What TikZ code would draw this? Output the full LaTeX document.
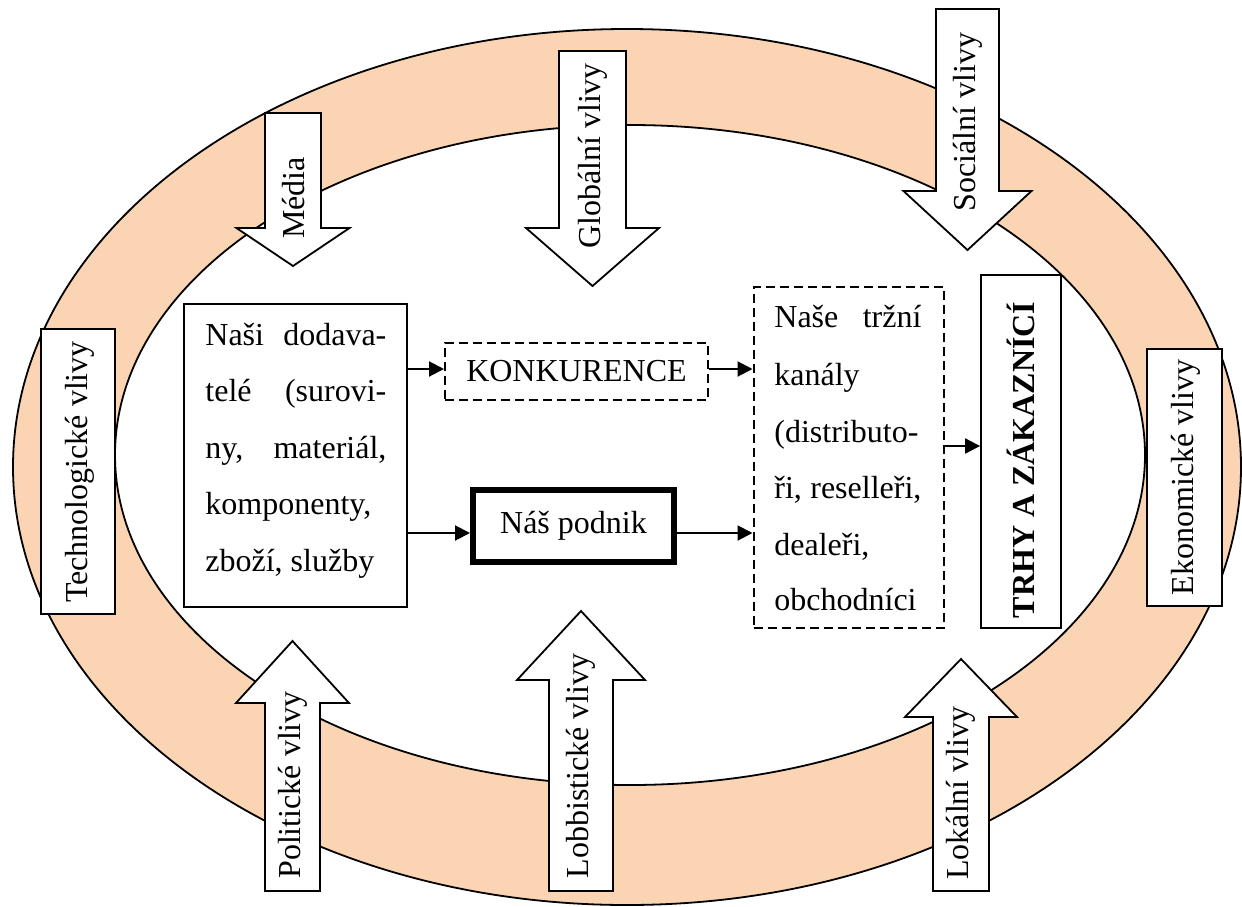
\documentclass[tikz,border=0pt]{standalone}
\usepackage{fontspec}
\setmainfont{Liberation Serif}
\usetikzlibrary{arrows.meta}
\definecolor{ringpeach}{HTML}{FBD4B4}
\begin{document}
\begin{tikzpicture}[x=0.5pt,y=-0.5pt,
  every node/.style={font=\fontsize{16}{19}\selectfont},
  outline/.style={line width=0.9pt},
  blockarrow/.style={outline, draw=black, fill=white, line join=miter},
  labeltext/.style={rotate=90, inner sep=0pt},
  plainbox/.style={outline, draw=black, fill=white, inner sep=0pt},
  dashbox/.style={line width=1pt, draw=black, dash pattern=on 4.5pt off 2.5pt, inner sep=0pt},
  thickbox/.style={draw=black, line width=3pt, inner sep=0pt},
  flow/.style={line width=1pt, -{Triangle[length=7.5pt,width=7.5pt]}},
  textline/.style={anchor=base west, inner sep=0pt},
]
\useasboundingbox (0,0) rectangle (1242,906);

% the ring of outside influences
\fill[ringpeach, even odd rule]
  (627,467) ellipse [x radius=307pt, y radius=219pt]
  (630,455) ellipse [x radius=257.5pt, y radius=165pt];
\draw[outline] (627,467) ellipse [x radius=307pt, y radius=219pt];
\draw[outline] (630,455) ellipse [x radius=257.5pt, y radius=165pt];

% downward block arrows
\draw[blockarrow] (265,113) -- (321,113) -- (321,228) -- (349.5,228) -- (293,266) -- (236.5,228) -- (265,228) -- cycle;
\node[labeltext] (media) at (294,198) {Média};
\draw[blockarrow] (559,51) -- (626,51) -- (626,228) -- (659,228) -- (592.5,286) -- (526,228) -- (559,228) -- cycle;
\node[labeltext] (global) at (593,156) {Globální vlivy};
\draw[blockarrow] (936,9) -- (999,9) -- (999,191) -- (1031.5,191) -- (967.5,250) -- (903.5,191) -- (936,191) -- cycle;
\node[labeltext] (social) at (968,122) {Sociální vlivy};

% upward block arrows
\draw[blockarrow] (265,891) -- (320,891) -- (320,703) -- (349,703) -- (292.5,641) -- (236,703) -- (265,703) -- cycle;
\node[labeltext] (polit) at (293,785) {Politické vlivy};
\draw[blockarrow] (549,891) -- (613,891) -- (613,680) -- (645,680) -- (581,611) -- (517,680) -- (549,680) -- cycle;
\node[labeltext] (lobby) at (581,766) {Lobbistické vlivy};
\draw[blockarrow] (933,891) -- (989,891) -- (989,717) -- (1017,717) -- (961,659) -- (905,717) -- (933,717) -- cycle;
\node[labeltext] (local) at (961,793) {Lokální vlivy};

% side boxes on the ring
\node[plainbox, minimum width=37pt, minimum height=142.5pt] (tech) at (78,471.5) {};
\node[labeltext] (techlabel) at (80,472) {Technologické vlivy};
\node[plainbox, minimum width=37.5pt, minimum height=128.5pt] (eko) at (1184.5,477.5) {};
\node[labeltext] (ekolabel) at (1186,477.5) {Ekonomické vlivy};

% suppliers
\node[plainbox, minimum width=111.5pt, minimum height=151.5pt] (sup) at (295.5,455.5) {};
\node[textline] (sup1) at (205,345) {\hbox to 90.5pt{Naši\hfill dodava-}};
\node[textline] (sup2) at (205,401) {\hbox to 90.5pt{telé\hfill (surovi-}};
\node[textline] (sup3) at (205,458) {\hbox to 90.5pt{ny,\hfill materiál,}};
\node[textline] (sup4) at (205,514) {komponenty,};
\node[textline] (sup5) at (205,571) {zboží, služby};

% competition and our company
\node[dashbox, minimum width=131.5pt, minimum height=28.5pt] (konk) at (576.5,371.5) {KONKURENCE};
\node[thickbox, minimum width=100.5pt, minimum height=36pt] (podnik) at (573.5,526) {Náš podnik};

% market channels
\node[dashbox, minimum width=95pt, minimum height=170.5pt] (kanaly) at (848.5,457.5) {};
\node[textline] (kan1) at (774,327) {\hbox to 73.5pt{Naše\hfill tržní}};
\node[textline] (kan2) at (774,385) {kanály};
\node[textline] (kan3) at (774,442) {(distributo-};
\node[textline] (kan4) at (774,498) {\hbox to 73.5pt{ři,\hfill reselleři,}};
\node[textline] (kan5) at (774,555) {dealeři,};
\node[textline] (kan6) at (774,610) {obchodníci};

% markets and customers
\node[plainbox, minimum width=40pt, minimum height=176.5pt] (trhy) at (1021,451.5) {};
\node[labeltext, font=\fontsize{16}{19}\selectfont\bfseries] (trhylabel) at (1021,460) {TRHY A ZÁKAZNÍCÍ};

% flows
\coordinate (rowA) at (0,369);
\coordinate (rowB) at (0,533);
\coordinate (rowC) at (0,446);
\draw[flow] (sup.east |- rowA) -- (konk.west |- rowA);
\draw[flow] (konk.east |- rowA) -- (kanaly.west |- rowA);
\draw[flow] (sup.east |- rowB) -- (podnik.west |- rowB);
\draw[flow] (podnik.east |- rowB) -- (kanaly.west |- rowB);
\draw[flow] (kanaly.east |- rowC) -- (trhy.west |- rowC);
\end{tikzpicture}
\end{document}
